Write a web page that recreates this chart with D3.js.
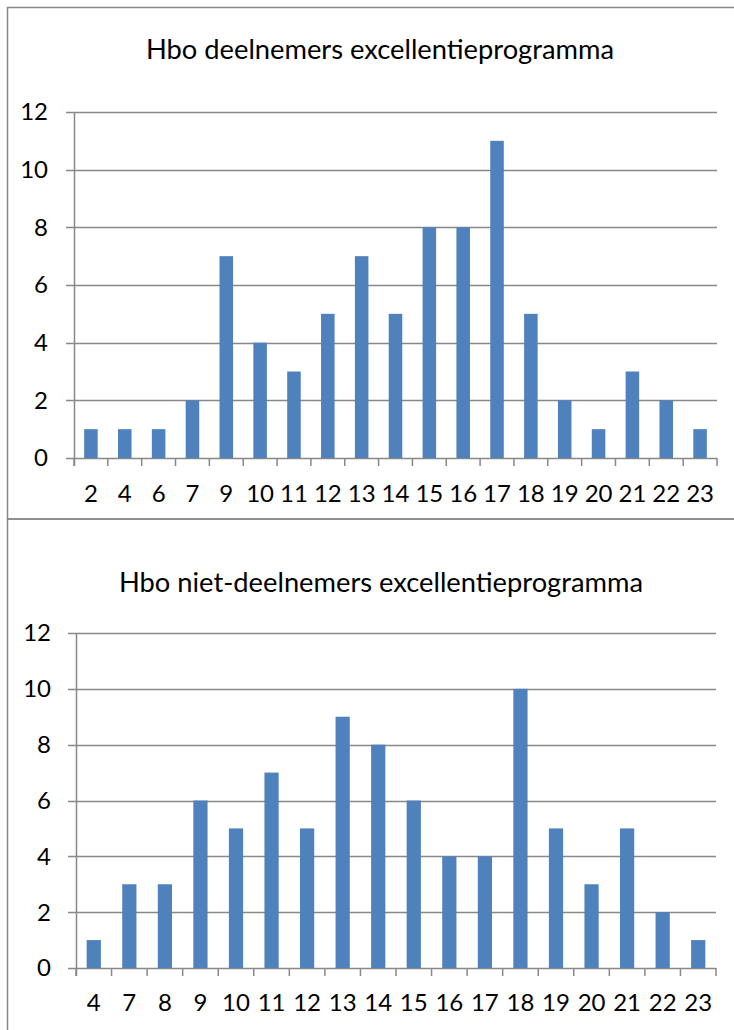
<!DOCTYPE html>
<html><head><meta charset="utf-8">
<script src="https://cdn.jsdelivr.net/npm/d3@7"></script>
<style>body{margin:0;background:#fff}svg{display:block}</style>
</head><body>
<svg id="c" width="734" height="1030"></svg>
<script>
const title1 = "Hbo deelnemers excellentieprogramma";
const cats1 = ["2","4","6","7","9","10","11","12","13","14","15","16","17","18","19","20","21","22","23"];
const vals1 = [1,1,1,2,7,4,3,5,7,5,8,8,11,5,2,1,3,2,1];
const title2 = "Hbo niet-deelnemers excellentieprogramma";
const cats2 = ["4","7","8","9","10","11","12","13","14","15","16","17","18","19","20","21","22","23"];
const vals2 = [1,3,3,6,5,7,5,9,8,6,4,4,10,5,3,5,2,1];
const yTicks = [0,2,4,6,8,10,12];

const svg = d3.select("#c");
const font = "Lato, 'Open Sans', sans-serif";
const grid = "#888888";
const barColor = "#4F81BD";

// outer borders
svg.append("rect").attr("x",7.5).attr("y",7.5).attr("width",760).attr("height",511.5)
  .attr("fill","none").attr("stroke",grid).attr("stroke-width",1.5);
svg.append("rect").attr("x",7.5).attr("y",519).attr("width",760).attr("height",540)
  .attr("fill","none").attr("stroke",grid).attr("stroke-width",1.5);

function chart(o){
  const g = svg.append("g");
  const x = d3.scaleBand().domain(o.cats).range([o.x0,o.x1]).paddingInner(0.6).paddingOuter(0.3);
  const xb = d3.scaleBand().domain(o.cats).range([o.x0,o.x1]);
  const y = d3.scaleLinear().domain([0,12]).range([o.y0,o.y1]);
  g.append("text").attr("x",(o.tx)).attr("y",o.ty).attr("text-anchor","middle")
    .attr("font-family",font).attr("font-size",27.3).attr("fill","#000").text(o.title);
  // gridlines
  g.selectAll(".gl").data(yTicks).join("line")
    .attr("x1",o.x0-8).attr("x2",o.x1).attr("y1",d=>Math.round(y(d))+0.5).attr("y2",d=>Math.round(y(d))+0.5)
    .attr("stroke",grid).attr("stroke-width",1.5);
  // y axis line
  g.append("line").attr("x1",o.x0+0.5).attr("x2",o.x0+0.5).attr("y1",y(12)).attr("y2",y(0)+8)
    .attr("stroke",grid).attr("stroke-width",1.5);
  // x ticks
  const edges = o.cats.map(c=>xb(c)+xb.bandwidth()).concat([o.x0]);
  g.selectAll(".xt").data(edges).join("line")
    .attr("x1",d=>d).attr("x2",d=>d).attr("y1",y(0)).attr("y2",y(0)+8)
    .attr("stroke",grid).attr("stroke-width",1.5);
  // bars
  g.selectAll(".bar").data(o.vals).join("rect")
    .attr("x",(d,i)=>x(o.cats[i])).attr("width",x.bandwidth())
    .attr("y",d=>y(d)).attr("height",d=>y(0)-y(d)).attr("fill",barColor);
  // y labels
  g.selectAll(".yl").data(yTicks).join("text")
    .attr("x",o.ylx).attr("y",d=>y(d)).attr("dy","0.35em").attr("text-anchor","end")
    .attr("font-family",font).attr("font-size",24).attr("fill","#000").text(d=>d);
  // x labels
  g.selectAll(".xl").data(o.cats).join("text")
    .attr("x",c=>xb(c)+xb.bandwidth()/2).attr("y",o.xly).attr("dy","0.35em").attr("text-anchor","middle")
    .attr("font-family",font).attr("font-size",24).attr("fill","#000").text(c=>c);
}

chart({title:title1,cats:cats1,vals:vals1,x0:74,x1:717,y0:458,y1:112,tx:380,ty:59,ylx:48,xly:494});
chart({title:title2,cats:cats2,vals:vals2,x0:76,x1:716,y0:968,y1:633,tx:381,ty:592,ylx:51,xly:1003});
</script>
</body></html>
